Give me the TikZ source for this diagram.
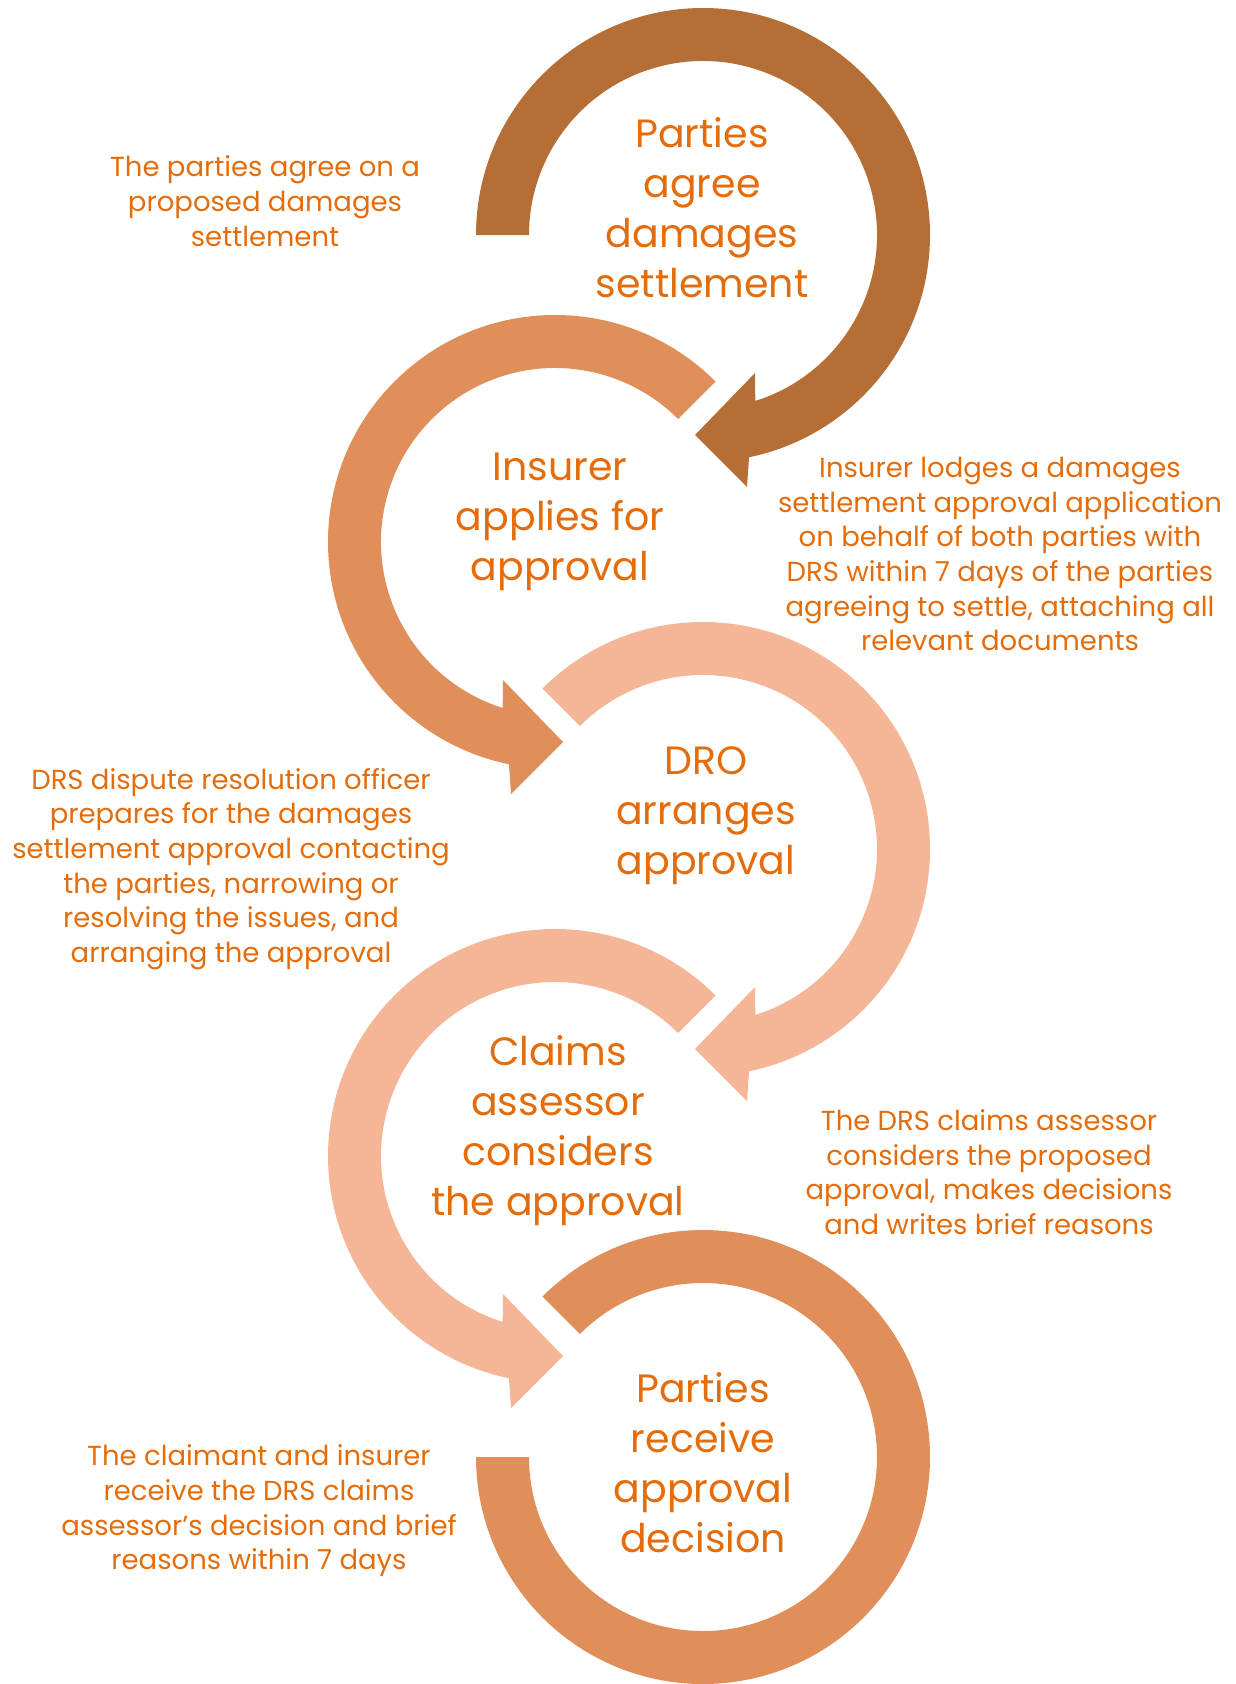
\documentclass[tikz,border=0pt]{standalone}
\usepackage{fontspec}
\setmainfont{Poppins}
\usepackage{tikz}
\definecolor{darkring}{HTML}{B56E35}
\definecolor{midring}{HTML}{E08E5A}
\definecolor{lightring}{HTML}{F4B696}
\definecolor{textorange}{HTML}{E46C0A}
\tikzset{
RING/.style={draw=none, fill=#1},
RING/.default = midring,
STEPTEXT/.style={text=textorange, align=center, inner sep=0pt, font=\fontsize{39.5}{50}\selectfont},
NOTE/.style={text=textorange, align=center, inner sep=0pt, font=\fontsize{27.5}{34.7}\selectfont},
}

\begin{document}
\begin{tikzpicture}[x=1pt,y=1pt]
	\useasboundingbox (0,0) rectangle (1235,-1684);
	%Parties agree
	\begin{scope}[shift={(703,-235)}]
		\path[RING=darkring] (180:227pt) arc[start angle=180, end angle=-78.3, radius=227pt]
			-- (44,-252) -- (-8,-200) -- (52,-138) -- (-72.5:174pt)
			arc[start angle=-72.5, end angle=180, radius=174pt] -- cycle;
	\end{scope}
	%Insurer applies
	\begin{scope}[shift={(555,-542)}]
		\path[RING] (45:227pt) arc[start angle=45, end angle=258.3, radius=227pt]
			-- (-44,-252) -- (8,-200) -- (-52,-138) -- (252.5:174pt)
			arc[start angle=252.5, end angle=45, radius=174pt] -- cycle;
	\end{scope}
	%DRO arranges
	\begin{scope}[shift={(703,-849)}]
		\path[RING=lightring] (135:227pt) arc[start angle=135, end angle=-78.3, radius=227pt]
			-- (44,-252) -- (-8,-200) -- (52,-138) -- (-72.5:174pt)
			arc[start angle=-72.5, end angle=135, radius=174pt] -- cycle;
	\end{scope}
	%Claims assessor
	\begin{scope}[shift={(555,-1156)}]
		\path[RING=lightring] (45:227pt) arc[start angle=45, end angle=258.3, radius=227pt]
			-- (-44,-252) -- (8,-200) -- (-52,-138) -- (252.5:174pt)
			arc[start angle=252.5, end angle=45, radius=174pt] -- cycle;
	\end{scope}
	%Parties receive
	\begin{scope}[shift={(703,-1457)}]
		\path[RING] (135:227pt) arc[start angle=135, end angle=-180, radius=227pt]
			-- (-180:174pt) arc[start angle=-180, end angle=135, radius=174pt] -- cycle;
	\end{scope}

	\node[STEPTEXT] (agree) at (702,-208) {Parties\\agree\\damages\\settlement};
	\node[STEPTEXT] (applies) at (560,-522) {Insurer\\applies for\\approval};
	\node[STEPTEXT] (arranges) at (706,-816) {DRO\\arranges\\approval};
	\node[STEPTEXT] (considers) at (558,-1131) {Claims\\assessor\\considers\\the approval};
	\node[STEPTEXT] (decision) at (703,-1463) {Parties\\receive\\approval\\decision};

	\node[NOTE] (agreenote) at (265,-201) {The parties agree on a\\proposed damages\\settlement};
	\node[NOTE] (lodgenote) at (1000,-554) {Insurer lodges a damages\\settlement approval application\\on behalf of both parties with\\DRS within 7 days of the parties\\agreeing to settle, attaching all\\relevant documents};
	\node[NOTE] (officernote) at (231,-869) {DRS dispute resolution officer\\prepares for the damages\\settlement approval contacting\\the parties, narrowing or\\resolving the issues, and\\arranging the approval};
	\node[NOTE] (assessornote) at (989,-1172) {The DRS claims assessor\\considers the proposed\\approval, makes decisions\\and writes brief reasons};
	\node[NOTE] (receivenote) at (259,-1511) {The claimant and insurer\\receive the DRS claims\\assessor’s decision and brief\\reasons within 7 days};
\end{tikzpicture}
\end{document}
